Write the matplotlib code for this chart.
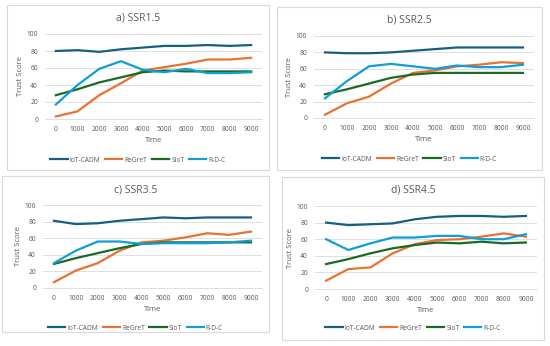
import matplotlib.pyplot as plt
from matplotlib.patches import Rectangle
import numpy as np

plt.rcParams['font.family'] = ['Open Sans', 'DejaVu Sans']

# x axis categories
time = [0, 1000, 2000, 3000, 4000, 5000, 6000, 7000, 8000, 9000]
series_names = ['IoT-CADM', 'ReGreT', 'SIoT', 'R-D-C']
colors = ['#156082', '#E97132', '#196B24', '#0F9ED5']

# a) SSR1.5
a_iot = [80, 81, 79, 82, 84, 86, 86, 87, 86, 87]
a_regret = [3, 9, 28, 42, 57, 61, 65, 70, 70, 72]
a_siot = [28, 35, 43, 49, 55, 57, 56, 56, 56, 56]
a_rdc = [17, 40, 59, 68, 58, 55, 59, 54, 54, 55]

# b) SSR2.5
b_iot = [80, 79, 79, 80, 82, 84, 86, 86, 86, 86]
b_regret = [4, 18, 26, 42, 55, 58, 63, 65, 68, 67]
b_siot = [29, 35, 42, 49, 53, 55, 55, 55, 55, 55]
b_rdc = [24, 45, 63, 66, 63, 60, 64, 62, 62, 65]

# c) SSR3.5
c_iot = [81, 77, 78, 81, 83, 85, 84, 85, 85, 85]
c_regret = [7, 21, 30, 45, 55, 57, 61, 66, 64, 68]
c_siot = [29, 36, 42, 48, 53, 55, 55, 55, 55, 55]
c_rdc = [30, 45, 56, 56, 53, 54, 54, 54, 55, 57]

# d) SSR4.5
d_iot = [80, 77, 78, 79, 84, 87, 88, 88, 87, 88]
d_regret = [10, 24, 26, 43, 54, 59, 60, 63, 67, 63]
d_siot = [30, 36, 43, 49, 53, 56, 55, 57, 55, 56]
d_rdc = [60, 47, 55, 62, 62, 64, 64, 60, 60, 66]

W, H = 550, 346

panels = [
    # title, data, border box, plot area (x0,y0,x1,y1 px), title y, legend y
    ('a) SSR1.5', [a_iot, a_regret, a_siot, a_rdc], (7, 5, 269, 170), (45, 34, 262, 119), 18, 160),
    ('b) SSR2.5', [b_iot, b_regret, b_siot, b_rdc], (277, 7, 542, 170), (314, 36, 534, 118), 20, 159),
    ('c) SSR3.5', [c_iot, c_regret, c_siot, c_rdc], (2, 176, 269, 332), (43, 205, 262, 288), 190, 328),
    ('d) SSR4.5', [d_iot, d_regret, d_siot, d_rdc], (282, 177, 544, 340), (315, 206, 537, 289), 190, 328),
]

fig = plt.figure(figsize=(W / 100, H / 100), dpi=100)

for title, data, box, area, ty, ly in panels:
    bx0, by0, bx1, by1 = box
    cx = (bx0 + bx1) / 2 / W
    fig.patches.append(Rectangle((bx0 / W, 1 - by1 / H), (bx1 - bx0) / W, (by1 - by0) / H,
                                 transform=fig.transFigure, fill=False,
                                 ec='#D9D9D9', lw=0.8))
    x0, y0, x1, y1 = area
    ax = fig.add_axes([x0 / W, 1 - y1 / H, (x1 - x0) / W, (y1 - y0) / H])
    lines = []
    for name, vals, col in zip(series_names, data, colors):
        ln, = ax.plot(time, vals, color=col, lw=1.6, label=name)
        lines.append(ln)
    ax.set_xlim(-500, 9500)
    ax.set_ylim(0, 100)
    ax.set_xticks(time)
    ax.set_yticks([0, 20, 40, 60, 80, 100])
    ax.grid(axis='y', color='#D9D9D9', lw=0.6)
    ax.set_axisbelow(True)
    for s in ['top', 'right', 'left']:
        ax.spines[s].set_visible(False)
    ax.spines['bottom'].set_color('#D9D9D9')
    ax.spines['bottom'].set_linewidth(0.6)
    ax.tick_params(length=0, labelsize=4.8, colors='#595959', pad=5)
    fig.text(cx, 1 - ty / H, title, fontsize=7.5, color='#595959',
             ha='center', va='center')
    ax.set_xlabel('Time', fontsize=5.5, color='#595959', labelpad=3)
    ax.set_ylabel('Trust Score', fontsize=5.5, color='#595959', labelpad=2)
    fig.legend(handles=lines, loc='center', bbox_to_anchor=(cx, 1 - ly / H), ncol=4,
               frameon=False, fontsize=4.8, handlelength=2.6,
               handletextpad=0.3, columnspacing=0.7, labelcolor='#595959',
               borderpad=0)

plt.savefig('out.png', dpi=100)
